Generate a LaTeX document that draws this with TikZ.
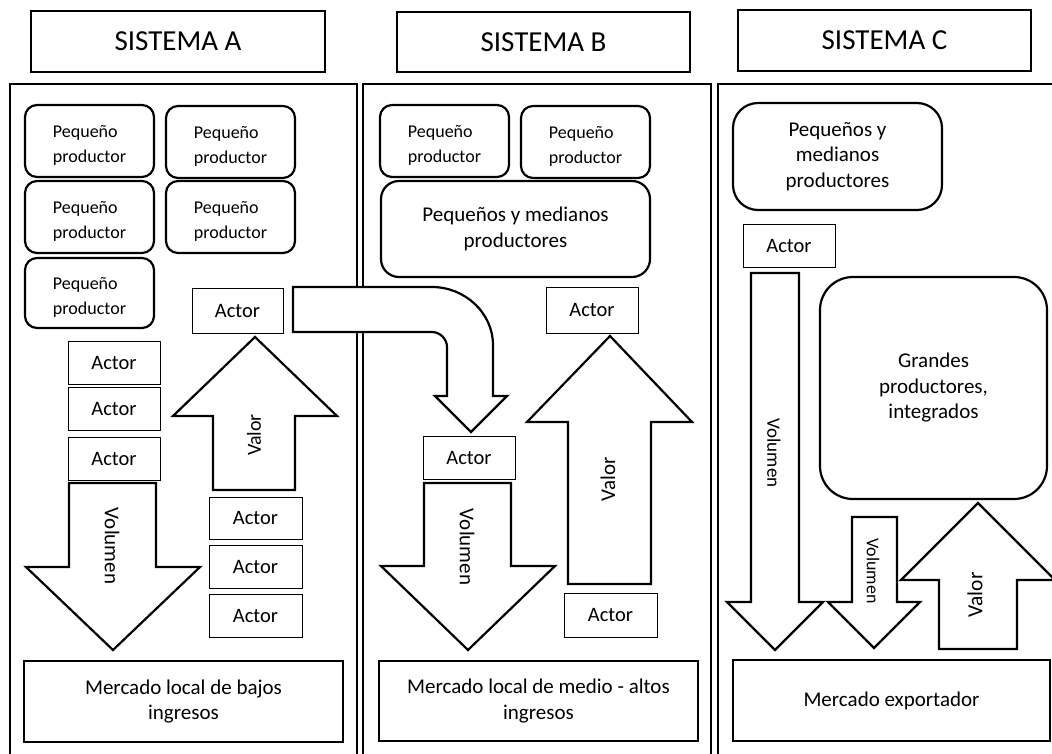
\documentclass[tikz,border=0pt]{standalone}
\usepackage{fontspec}
\setmainfont{Carlito}
\newcommand\boxat[7]{%
  \node[#1, minimum width={#5-#3}, minimum height={#6-#4}] (#2) at ({(#3+#5)/2},{(#4+#6)/2}) {#7};}
\newcommand\fs[1]{\fontsize{#1}{25}\selectfont}
\newcommand\pp{\rule{0pt}{21pt}Pequeño\\productor}
\begin{document}
\begin{tikzpicture}[x=1pt,y=-1pt,
  hdr/.style={draw, line width=1.1pt, inner sep=0pt, font=\fontsize{29}{35}\selectfont},
  panel/.style={draw, line width=2.6pt, inner sep=0pt},
  prod/.style={draw, line width=2.2pt, rounded corners=12pt, inner sep=0pt, align=left, font=\fontsize{18}{25}\selectfont},
  grp/.style={draw, line width=2.2pt, inner sep=0pt, align=center, font=\fontsize{21}{25.5}\selectfont},
  actor/.style={draw, line width=0.9pt, inner sep=0pt, font=\fontsize{20.5}{24}\selectfont},
  market/.style={draw, line width=2.4pt, inner sep=0pt, align=center, font=\fontsize{21}{25.5}\selectfont},
  blockarrow/.style={draw, line width=2.2pt, fill=white, line join=miter},
  lbl/.style={inner sep=0pt},
]
\path[use as bounding box, clip] (0,0) rectangle (1052,754);
\fill[white] (0,0) rectangle (1052,754);

% headers
\boxat{hdr}{hA}{31}{11}{325}{72}{SISTEMA A}
\boxat{hdr}{hB}{397}{12}{690}{72}{SISTEMA B}
\boxat{hdr}{hC}{738}{10}{1031}{71}{SISTEMA C}

% panels
\boxat{panel}{pA}{10}{84}{357}{775}{}
\boxat{panel}{pB}{363}{84}{711}{775}{}
\boxat{panel}{pC}{718}{84}{1070}{775}{}

% ---------- Sistema A
\boxat{prod}{a1}{25}{105}{154}{177}{\pp}
\boxat{prod}{a2}{166}{106}{295}{178}{\pp}
\boxat{prod}{a3}{25}{181}{154}{253}{\pp}
\boxat{prod}{a4}{166}{181}{295}{253}{\pp}
\boxat{prod}{a5}{25}{258}{154}{328}{\pp}

\boxat{actor}{aT}{192}{288}{283}{333}{Actor}
\boxat{actor}{aL1}{68}{341}{160}{384}{Actor}
\boxat{actor}{aL2}{68}{387}{160}{430}{Actor}
\boxat{actor}{aL3}{68}{437}{160}{480}{Actor}
\boxat{actor}{aR1}{209}{497}{302}{539}{Actor}
\boxat{actor}{aR2}{209}{545}{302}{588}{Actor}
\boxat{actor}{aR3}{209}{594}{302}{637}{Actor}
\boxat{market}{mA}{24}{661}{343}{742}{Mercado local de bajos\\ingresos}

% Volumen A (down)
\draw[blockarrow] (69,483) -- (156,483) -- (156,567) -- (200,567) -- (113,650) -- (26,567) -- (69,567) -- cycle;
\node[lbl, rotate=-90, font=\fs{21}] (volA) at (112,546) {Volumen};
% Valor A (up)
\draw[blockarrow] (213,490) -- (213,416) -- (173,416) -- (255,337) -- (337,416) -- (295,416) -- (295,490) -- cycle;
\node[lbl, rotate=90, font=\fs{20}] (valA) at (254,435) {Valor};

% ---------- Sistema B
\boxat{prod}{b1}{380}{105}{509}{177}{\pp}
\boxat{prod}{b2}{521}{106}{650}{178}{\pp}
\boxat{grp, rounded corners=18pt}{bG}{381}{181}{650}{277}{Pequeños y medianos\\productores}
\boxat{actor}{bT}{546}{287}{638}{333}{Actor}
\boxat{actor}{bM}{423}{436}{515}{479}{Actor}
\boxat{actor}{bR}{564}{593}{657}{637}{Actor}
\boxat{market}{mB}{379}{661}{698}{741}{Mercado local de medio - altos\\ingresos}

% curved arrow A -> B
\draw[blockarrow] (293,287) -- (432,287) .. controls (465,287) and (493,313) .. (493,345)
  -- (493,396) -- (507,396) -- (471,432) -- (435,396) -- (447,396) -- (447,347)
  .. controls (447,339) and (440,332) .. (432,332) -- (293,332) -- cycle;

% Volumen B (down)
\draw[blockarrow] (424,483) -- (511,483) -- (511,566) -- (555,566) -- (468,650) -- (381,566) -- (424,566) -- cycle;
\node[lbl, rotate=-90, font=\fs{21}] (volB) at (467,547) {Volumen};
% Valor B (up)
\draw[blockarrow] (568,584) -- (568,422) -- (527,422) -- (610,336) -- (692,422) -- (651,422) -- (651,584) -- cycle;
\node[lbl, rotate=90, font=\fs{21}] (valB) at (608,479) {Valor};

% ---------- Sistema C
\boxat{grp, rounded corners=25pt}{cG}{733}{103}{942}{210}{Pequeños y\\medianos\\productores}
\boxat{actor}{cT}{743}{224}{835}{267}{Actor}
\boxat{grp, rounded corners=33pt}{cBig}{820}{277}{1047}{499}{Grandes\\productores,\\integrados}
\boxat{market}{mC}{733}{660}{1050}{741}{Mercado exportador}

% Volumen C long
\draw[blockarrow] (751,273) -- (799,273) -- (799,602) -- (823,602) -- (775,650) -- (727,602) -- (751,602) -- cycle;
\node[lbl, rotate=-90, font=\fs{19}] (volC1) at (774,453) {Volumen};
% Volumen C short
\draw[blockarrow] (852,517) -- (897,517) -- (897,602) -- (920,602) -- (874,648) -- (828,602) -- (852,602) -- cycle;
\node[lbl, rotate=-90, font=\fs{18}] (volC2) at (873,571) {Volumen};
% Valor C (up)
\draw[blockarrow] (939,649) -- (939,580) -- (901,580) -- (978,503) -- (1055,580) -- (1017,580) -- (1017,649) -- cycle;
\node[lbl, rotate=90, font=\fs{21.5}] (valC) at (975,595) {Valor};
\end{tikzpicture}
\end{document}
